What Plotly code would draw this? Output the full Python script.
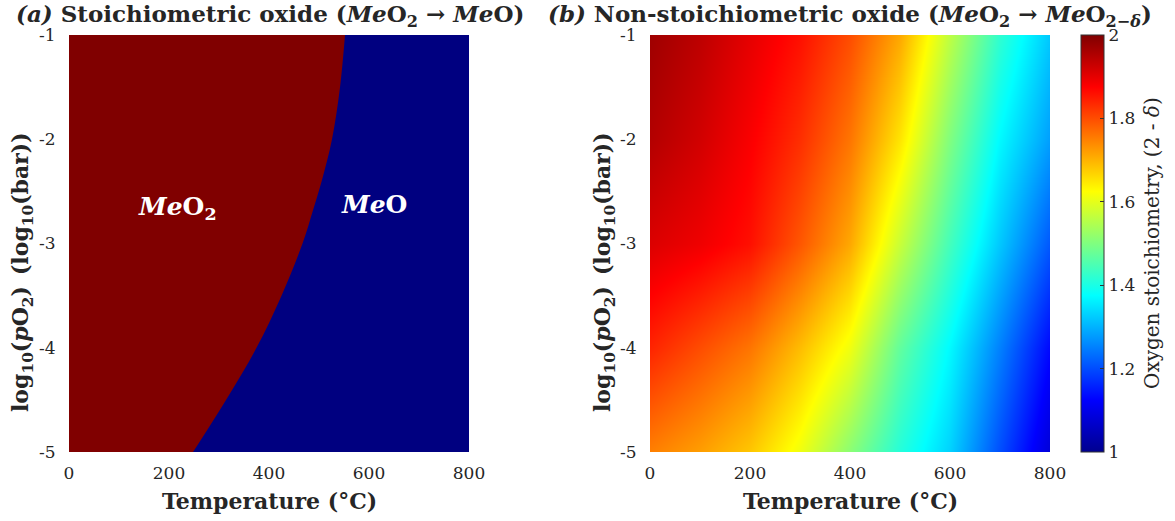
import plotly.graph_objects as go

# ---------------- data ----------------
T_range = [0, 800]            # temperature axis limits (°C)
logp_range = [-5, -1]         # log10(pO2) axis limits

# phase boundary MeO2 / MeO (left panel)
boundary_logp = [-1.0, -1.5, -2.0, -2.39, -2.68, -3.0, -3.5, -4.0, -4.5, -5.0]
boundary_T = [552, 542, 526, 506, 488, 467, 425, 375, 314, 248]

grid_T = [0, 100, 200, 300, 400, 500, 600, 700, 800]
grid_logp = [-5, -4, -3, -2, -1]
stoich = [
    [1.75, 1.72, 1.68, 1.61, 1.51, 1.41, 1.33, 1.20, 1.08],   # -5
    [1.84, 1.80, 1.76, 1.69, 1.61, 1.47, 1.37, 1.25, 1.13],   # -4
    [1.91, 1.89, 1.86, 1.79, 1.71, 1.57, 1.44, 1.32, 1.21],   # -3
    [1.95, 1.92, 1.88, 1.83, 1.76, 1.65, 1.50, 1.37, 1.28],   # -2
    [1.97, 1.94, 1.90, 1.86, 1.80, 1.71, 1.56, 1.42, 1.32],   # -1
]

x_ticks = [0, 200, 400, 600, 800]
y_ticks = [-5, -4, -3, -2, -1]
y_ticklabels = ["-5", "-4", "-3", "-2", "-1"]
cb_ticks = [1, 1.2, 1.4, 1.6, 1.8, 2]
cb_ticklabels = ["1", "1.2", "1.4", "1.6", "1.8", "2"]

# ---------------- style ----------------
FONT = "DejaVu Serif"
TXT = "#262626"
RED = "#800000"
BLUE = "#000080"
jet = [[0, "rgb(0,0,143)"], [0.125, "rgb(0,0,255)"], [0.375, "rgb(0,255,255)"],
       [0.625, "rgb(255,255,0)"], [0.875, "rgb(255,0,0)"], [1, "rgb(128,0,0)"]]

W, H = 1175, 521
def px(v): return v / W
def py(v): return 1 - v / H

fig = go.Figure()

# MeO region: whole left axes area as background
fig.add_shape(type="rect", xref="x", yref="y", x0=T_range[0], x1=T_range[1],
              y0=logp_range[0], y1=logp_range[1], fillcolor=BLUE, line=dict(width=0),
              layer="below")
# MeO2 region: fill from boundary to T = 0
fig.add_trace(go.Scatter(
    x=boundary_T, y=boundary_logp, fill="tozerox", fillcolor=RED, mode="lines",
    line=dict(width=0, color=RED, shape="spline", smoothing=1.0),
    hoverinfo="skip", showlegend=False, xaxis="x", yaxis="y"))

fig.add_trace(go.Heatmap(
    x=grid_T, y=grid_logp, z=stoich, zmin=1, zmax=2, zsmooth="best",
    colorscale=jet, xaxis="x2", yaxis="y2", hoverinfo="skip",
    colorbar=dict(
        x=px(1081), xanchor="left", xpad=0, ypad=0,
        y=py(452), yanchor="bottom", len=(452 - 35) / H, lenmode="fraction",
        thickness=23, thicknessmode="pixels",
        outlinewidth=1, outlinecolor="#333333",
        tickvals=cb_ticks, ticktext=cb_ticklabels, ticks="inside", ticklen=4,
        tickcolor="#333333", tickfont=dict(family=FONT, size=17, color=TXT),
    )))

ytitle = "<b>log<sub>10</sub>(<i>p</i>O<sub>2</sub>)\u2002(log<sub>10</sub>(bar))</b>"
xtitle = "<b>Temperature (°C)</b>"
axis_common = dict(showgrid=False, zeroline=False, showline=False, automargin=False,
                   ticks="outside", tickcolor="rgba(0,0,0,0)",
                   tickfont=dict(family=FONT, size=17, color=TXT))

fig.update_layout(
    width=W, height=H, margin=dict(l=0, r=0, t=0, b=0, autoexpand=False),
    paper_bgcolor="white", plot_bgcolor="white",
    xaxis=dict(domain=[px(69), px(469)], range=T_range, tickvals=x_ticks, anchor="y",
               ticklen=6, **axis_common),
    yaxis=dict(domain=[py(452), py(35)], range=logp_range, tickvals=y_ticks, ticktext=y_ticklabels,
               anchor="x", ticklen=9, **axis_common),
    xaxis2=dict(domain=[px(650), px(1050)], range=T_range, tickvals=x_ticks, anchor="y2",
                ticklen=6, **axis_common),
    yaxis2=dict(domain=[py(452), py(35)], range=logp_range, tickvals=y_ticks, ticktext=y_ticklabels,
                anchor="x2", ticklen=9, **axis_common),
    annotations=[
        dict(text="<b><i>(a)</i> Stoichiometric oxide (<i>Me</i>O<sub>2</sub> → <i>Me</i>O)</b>",
             xref="paper", yref="paper", x=px(270), y=py(15), xanchor="center", yanchor="middle",
             showarrow=False, font=dict(family=FONT, size=23, color=TXT)),
        dict(text="<b><i>(b)</i> Non-stoichiometric oxide (<i>Me</i>O<sub>2</sub> → <i>Me</i>O<sub>2−<i>δ</i></sub>)</b>",
             xref="paper", yref="paper", x=px(850), y=py(15), xanchor="center", yanchor="middle",
             showarrow=False, font=dict(family=FONT, size=23, color=TXT)),
        # axis titles
        dict(text=xtitle, xref="paper", yref="paper", x=px(269), y=py(501),
             xanchor="center", yanchor="middle", showarrow=False,
             font=dict(family=FONT, size=22, color=TXT)),
        dict(text=xtitle, xref="paper", yref="paper", x=px(850), y=py(501),
             xanchor="center", yanchor="middle", showarrow=False,
             font=dict(family=FONT, size=22, color=TXT)),
        dict(text=ytitle, xref="paper", yref="paper", x=px(22), y=py(272), textangle=-90,
             xanchor="center", yanchor="middle", showarrow=False,
             font=dict(family=FONT, size=22, color=TXT)),
        dict(text=ytitle, xref="paper", yref="paper", x=px(604), y=py(272), textangle=-90,
             xanchor="center", yanchor="middle", showarrow=False,
             font=dict(family=FONT, size=22, color=TXT)),
        dict(text="Oxygen stoichiometry, (2 - <i>δ</i>)", xref="paper", yref="paper",
             x=px(1152), y=py(243), textangle=-90, xanchor="center", yanchor="middle",
             showarrow=False, font=dict(family=FONT, size=20, color=TXT)),
        # phase labels
        dict(text="<b><i>Me</i>O<sub>2</sub></b>", xref="x", yref="y", x=216, y=-2.66,
             showarrow=False, font=dict(family=FONT, size=25, color="white")),
        dict(text="<b><i>Me</i>O</b>", xref="x", yref="y", x=610, y=-2.63,
             showarrow=False, font=dict(family=FONT, size=25, color="white")),
    ],
)

fig.write_html("out.html")
